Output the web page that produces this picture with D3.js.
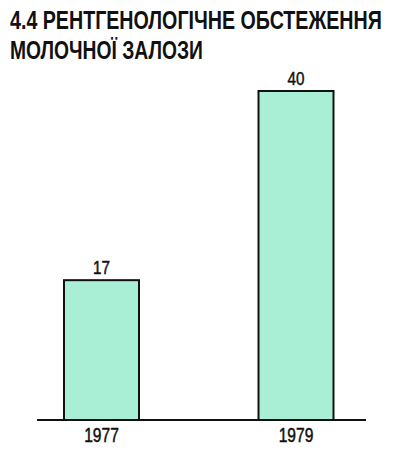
<!DOCTYPE html>
<html>
<head>
<meta charset="utf-8">
<script src="https://cdn.jsdelivr.net/npm/d3@7"></script>
<style>
  body { margin: 0; background: #fff; }
  svg { display: block; }
</style>
</head>
<body>
<script>
const titleLines = ["4.4 РЕНТГЕНОЛОГІЧНЕ ОБСТЕЖЕННЯ", "МОЛОЧНОЇ ЗАЛОЗИ"];
const years = ["1977", "1979"];
const values = [17, 40];

const width = 405, height = 450;
const font = "'Liberation Sans Narrow', 'Arial Narrow', 'Liberation Sans', sans-serif";

const svg = d3.select("body").append("svg")
    .attr("width", width)
    .attr("height", height)
    .attr("font-family", font);

const x = d3.scalePoint().domain(years).range([101.5, 296]);
const y = d3.scaleLinear().domain([0, 40]).range([420, 91]);
const barW = 75;

// squeeze a text horizontally so it takes the given width, like the condensed face of the original
function squeeze(sel, w, anchorX, baseY) {
  sel.each(function() {
    const len = this.getComputedTextLength();
    const s = Math.min(1, w / len);
    d3.select(this).attr("transform", `translate(${anchorX},${baseY}) scale(${s},1)`);
  });
}

// title
const titleFit = [372, 193];
svg.append("g").selectAll("text")
  .data(titleLines)
  .join("text")
    .attr("font-size", 26.5)
    .attr("font-weight", "bold")
    .attr("fill", "#111")
    .text(d => d)
    .each(function(d, i) { squeeze(d3.select(this), titleFit[i], 10, 28.5 + i * 30); });

const data = years.map((yr, i) => ({year: yr, value: values[i]}));

svg.append("g").selectAll("rect")
  .data(data)
  .join("rect")
    .attr("x", d => x(d.year) - barW / 2)
    .attr("y", d => y(d.value))
    .attr("width", barW)
    .attr("height", d => y(0) - y(d.value))
    .attr("fill", "#a9efd6")
    .attr("stroke", "#111")
    .attr("stroke-width", 2);

// baseline
svg.append("line")
    .attr("x1", 37).attr("x2", 366)
    .attr("y1", y(0)).attr("y2", y(0))
    .attr("stroke", "#111")
    .attr("stroke-width", 2);

svg.append("g").selectAll("text")
  .data(data)
  .join("text")
    .attr("text-anchor", "middle")
    .attr("font-size", 19)
    .attr("fill", "#111")
    .attr("stroke", "#111")
    .attr("stroke-width", 0.5)
    .text(d => d.value)
    .each(function(d) {
      d3.select(this).attr("transform", `translate(${x(d.year)},${y(d.value) - 6}) scale(0.8,1)`);
    });

svg.append("g").selectAll("text")
  .data(data)
  .join("text")
    .attr("text-anchor", "middle")
    .attr("font-size", 20)
    .attr("fill", "#111")
    .attr("stroke", "#111")
    .attr("stroke-width", 0.5)
    .text(d => d.year)
    .each(function(d) {
      d3.select(this).attr("transform", `translate(${x(d.year)},442) scale(0.78,1)`);
    });
</script>
</body>
</html>
